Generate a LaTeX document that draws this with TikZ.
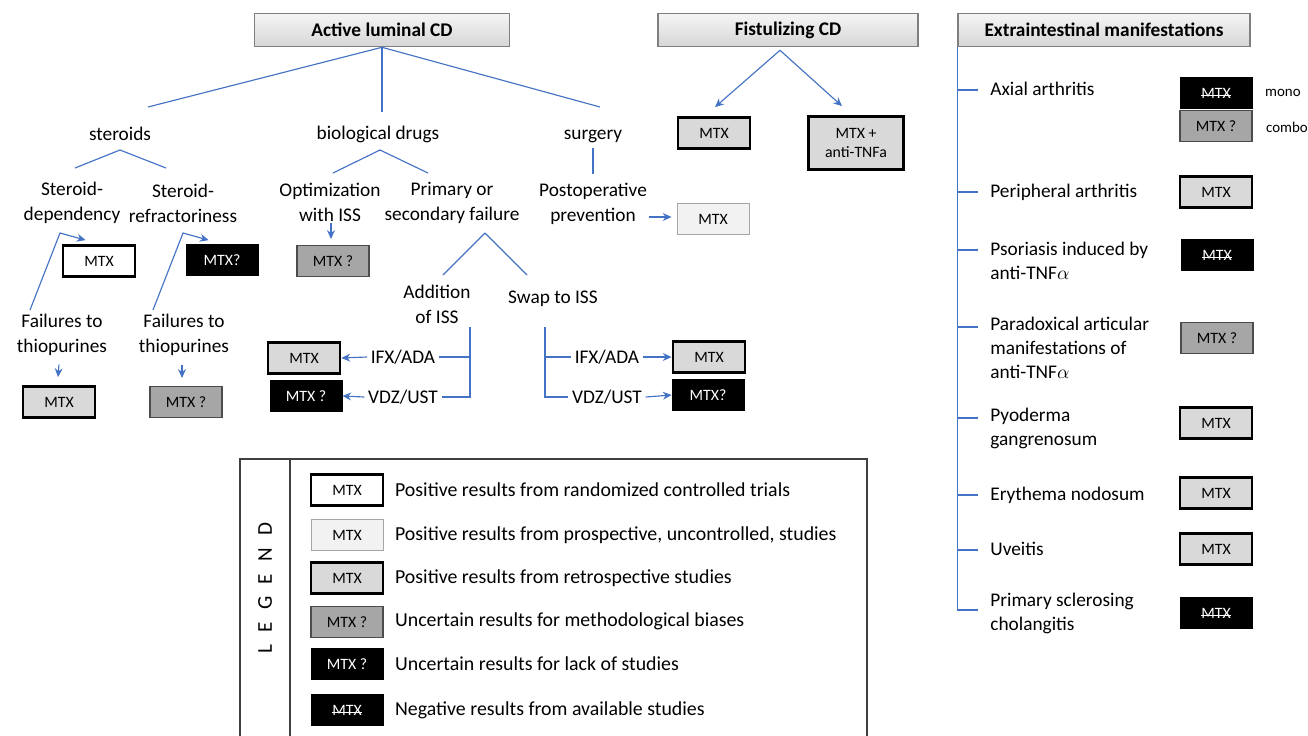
\documentclass[tikz,border=0pt]{standalone}
\usepackage{fontspec}
\setmainfont{Carlito}
\usetikzlibrary{calc,arrows.meta}

\definecolor{conncol}{HTML}{4472C4}
\definecolor{hdrline}{HTML}{7F7F7F}
\definecolor{retrofill}{HTML}{D9D9D9}
\definecolor{prospfill}{HTML}{F2F2F2}
\definecolor{methfill}{HTML}{A6A6A6}
\definecolor{legline}{HTML}{404040}

\newcommand{\struckmtx}{\setbox0\hbox{MTX}\rlap{\copy0}\rule[0.3ex]{\wd0}{0.5pt}}

\tikzset{
  conn/.style={draw=conncol, line width=0.65pt},
  lbl/.style={align=center, inner sep=2pt, font=\fontsize{11}{14.2}\selectfont},
  item/.style={align=left, inner sep=0pt, anchor=base west, font=\fontsize{11}{13.6}\selectfont},
  hdr/.style={draw=hdrline, line width=0.9pt, top color=gray!8, bottom color=gray!32,
    minimum height=0.66cm, font=\bfseries\fontsize{11}{13}\selectfont},
  mbox/.style={minimum width=1.44cm, minimum height=0.62cm, inner sep=1pt, align=center,
    font=\fontsize{9}{11}\selectfont},
  rct/.style={mbox, draw=black, fill=white, line width=1.6pt},
  prosp/.style={mbox, draw=gray!70, fill=prospfill, line width=0.5pt},
  retro/.style={mbox, draw=black, fill=retrofill, line width=1.6pt},
  meth/.style={mbox, draw=black!70, fill=methfill, line width=0.6pt},
  lack/.style={mbox, draw=black, fill=black, text=white},
  neg/.style={lack},
  note/.style={inner sep=1pt, font=\fontsize{8.5}{10}\selectfont},
  legtext/.style={anchor=west, inner sep=1pt, font=\fontsize{11.3}{13}\selectfont},
}

\begin{document}
\begin{tikzpicture}[x=0.02cm, y=-0.02cm, >={Stealth[length=5pt,width=4.5pt]}]
\useasboundingbox (0,0) rectangle (1308,735);

% headers
\node[hdr, minimum width=5.1cm] (alc) at (382,30) {Active luminal CD};
\node[hdr, minimum width=5.2cm] (fis) at (788,30) {Fistulizing CD};
\node[hdr, minimum width=5.84cm] (ext) at (1104,30) {Extraintestinal manifestations};

% active luminal CD
\node[lbl] (ster) at (120,134) {steroids};
\node[lbl] (bio) at (378,134) {biological drugs};
\node[lbl] (surg) at (593,136) {surgery};
\draw[conn] (alc.south) -- ($(ster)+(28,-27)$);
\draw[conn] (alc.south) -- ($(bio)+(4,-22)$);
\draw[conn] (alc.south) -- ($(surg)+(7,-29)$);

\node[lbl] (dep) at (72,203) {Steroid-\\dependency};
\node[lbl] (refr) at (183,203) {Steroid-\\refractoriness};
\draw[conn] ($(ster)+(0,16)$) -- ($(dep)+(3,-35)$);
\draw[conn] ($(ster)+(0,16)$) -- ($(refr)+(-17,-35)$);
\node[rct] (mtxdep) at (99,261) {MTX};
\node[lack] (mtxrefr) at (222,260) {MTX?};
\node[lbl] (fail1) at (62,335) {Failures to\\thiopurines};
\node[lbl] (fail2) at (184,335) {Failures to\\thiopurines};
\node[retro] (mtxfail1) at (59,402) {MTX};
\node[meth] (mtxfail2) at (186,402) {MTX ?};
\draw[conn,->] ($(fail1)+(-32,-25)$) -- ($(dep)+(-12,30)$) -- ($(mtxdep.north west)+(24,-4)$);
\draw[conn,->] ($(fail2)+(-31,-25)$) -- ($(refr)+(0,30)$) -- ($(mtxrefr.north west)+(23,-4)$);
\draw[conn,->] ($(fail1.south)+(-3,5)$) -- ($(mtxfail1.north)+(-1,-8)$);
\draw[conn,->] ($(fail2.south)+(-2,5)$) -- ($(mtxfail2.north)+(-4,-8)$);

\node[lbl] (opt) at (330,202) {Optimization\\with ISS};
\node[meth] (mtxopt) at (333,261) {MTX ?};
\node[lbl] (prim) at (452,203) {Primary or\\secondary failure};
\draw[conn] ($(bio)+(2,16)$) -- ($(opt)+(3,-29)$);
\draw[conn] ($(bio)+(2,16)$) -- ($(prim)+(-24,-30)$);
\draw[conn,->] ($(opt.south)+(1,-2)$) -- ($(mtxopt.north)+(-2,-6)$);

\node[lbl] (add) at (437,304) {Addition\\of ISS};
\node[lbl] (swap) at (553,299) {Swap to ISS};
\draw[conn] ($(prim)+(33,30)$) -- ($(add)+(6,-29)$);
\draw[conn] ($(prim)+(33,30)$) -- ($(swap)+(-26,-24)$);

\node[lbl] (ifx1) at (403,357) {IFX/ADA};
\node[lbl] (vdz1) at (403,397) {VDZ/UST};
\node[retro] (mtxifx1) at (304,358) {MTX};
\node[lack] (mtxvdz1) at (306,396) {MTX ?};
\coordinate (addtop) at ($(add)+(33,23)$);
\draw[conn] (addtop) |- (vdz1.east);
\draw[conn] (ifx1.east) -- (ifx1.east -| addtop);
\draw[conn,->] (ifx1.west) -- (mtxifx1.east);
\draw[conn,->] (vdz1.west) -- (mtxvdz1.east);

\node[lbl] (ifx2) at (607,357) {IFX/ADA};
\node[lbl] (vdz2) at (607,397) {VDZ/UST};
\node[retro] (mtxifx2) at (709,357) {MTX};
\node[lack] (mtxvdz2) at (708,395) {MTX?};
\coordinate (swaptop) at ($(swap)+(-8,28)$);
\draw[conn] (swaptop) |- (vdz2.west);
\draw[conn] (ifx2.west -| swaptop) -- (ifx2.west);
\draw[conn,->] (ifx2.east) -- (mtxifx2.west);
\draw[conn,->] (vdz2.east) -- (mtxvdz2.west);

\node[lbl] (post) at (593,204) {Postoperative\\prevention};
\node[prosp] (mtxpost) at (713,219) {MTX};
\draw[conn] ($(surg.south)+(0,2)$) -- ($(post.north)+(0,-5)$);
\draw[conn,->] ($(post.east)+(-2,13)$) -- ($(mtxpost.west)+(-5,-2)$);

% fistulizing CD
\node[retro] (mtxfis1) at (714,133) {MTX};
\node[retro, minimum width=1.9cm, minimum height=1.06cm] (mtxfis2) at (856,143) {MTX +\\anti-TNFa};
\draw[conn,->] ($(fis.south)+(-8,3)$) -- ($(mtxfis1.north)+(1,-9)$);
\draw[conn,->] ($(fis.south)+(-8,3)$) -- ($(mtxfis2.north)+(-14,-9)$);

% extraintestinal manifestations (base = last line)
\node[item] (axial) at (990,95) {Axial arthritis};
\node[item] (periph) at (990,197) {Peripheral arthritis};
\node[item] (psor) at (990,279) {Psoriasis induced by\\anti-TNF$\alpha$};
\node[item] (parad) at (990,378) {Paradoxical articular\\manifestations of\\anti-TNF$\alpha$};
\node[item] (pyo) at (990,445) {Pyoderma\\gangrenosum};
\node[item] (ery) at (990,500) {Erythema nodosum};
\node[item] (uve) at (990,555) {Uveitis};
\node[item] (psc) at (990,630) {Primary sclerosing\\cholangitis};
\draw[conn] (ext.south west) |- ($(psc.base west)+(-12,-20)$);
\draw[conn] ($(axial.base west)+(-12,-5)$) -- ++(-20,0);
\draw[conn] ($(periph.base west)+(-12,-5)$) -- ++(-20,0);
\draw[conn] ($(psor.base west)+(-12,-29)$) -- ++(-20,0);
\draw[conn] ($(parad.base west)+(-12,-51)$) -- ++(-20,0);
\draw[conn] ($(pyo.base west)+(-12,-27)$) -- ++(-20,0);
\draw[conn] ($(ery.base west)+(-12,-5)$) -- ++(-20,0);
\draw[conn] ($(uve.base west)+(-12,-5)$) -- ++(-20,0);

\node[neg] (mtxaxial) at (1216,93) {\struckmtx};
\node[meth] (mtxaxial2) at (1216,126) {MTX ?};
\node[note, anchor=west] (mono) at (1263,93) {mono};
\node[note, anchor=west] (combo) at (1264,127) {combo};
\node[retro] (mtxperiph) at (1216,192) {MTX};
\node[neg] (mtxpsor) at (1217,255) {\struckmtx};
\node[meth] (mtxparad) at (1217,338) {MTX ?};
\node[retro] (mtxpyo) at (1216,423) {MTX};
\node[retro] (mtxery) at (1216,493) {MTX};
\node[retro] (mtxuve) at (1216,549) {MTX};
\node[neg] (mtxpsc) at (1216,613) {\struckmtx};

% legend
\draw[draw=legline, line width=0.7pt] (240,459) rectangle (867,740);
\draw[draw=legline, line width=0.7pt] (290,459) -- (290,740);
\node[rotate=90, font=\fontsize{12}{14}\selectfont] (legtitle) at (265,588)
  {L\hspace{7pt}E\hspace{7pt}G\hspace{7pt}E\hspace{7pt}N\hspace{7pt}D};
\node[rct] (lb1) at (347,490) {MTX};
\node[prosp] (lb2) at (347,535) {MTX};
\node[retro] (lb3) at (347,578) {MTX};
\node[meth] (lb4) at (347,622) {MTX ?};
\node[lack] (lb5) at (347,664) {MTX ?};
\node[neg] (lb6) at (347,710) {\struckmtx};
\node[legtext] (leg1) at (393,490) {Positive results from randomized controlled trials};
\node[legtext] (leg2) at (393,535) {Positive results from prospective, uncontrolled, studies};
\node[legtext] (leg3) at (393,578) {Positive results from retrospective studies};
\node[legtext] (leg4) at (393,621) {Uncertain results for methodological biases};
\node[legtext] (leg5) at (393,664) {Uncertain results for lack of studies};
\node[legtext] (leg6) at (393,710) {Negative results from available studies};
\end{tikzpicture}
\end{document}
